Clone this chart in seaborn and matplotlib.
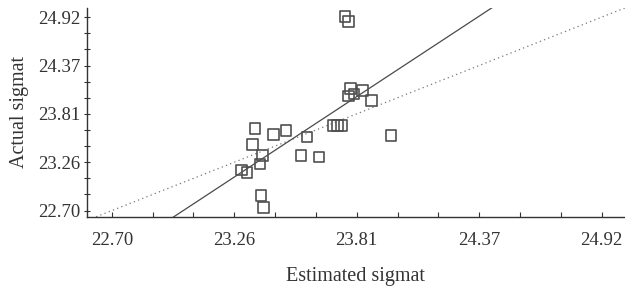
import numpy as np
import pandas as pd
import matplotlib
matplotlib.use("Agg")
import matplotlib.pyplot as plt
import seaborn as sns
from matplotlib.ticker import FixedLocator

# values
estimated = [23.757, 23.772, 23.783, 23.772, 23.798, 23.837, 23.876,
             23.349, 23.432, 23.490, 23.584, 23.704, 23.722, 23.742, 23.966,
             23.337, 23.384, 23.372, 23.558, 23.639, 23.287, 23.312, 23.376, 23.387]
actual = [24.925, 24.868, 24.103, 24.015, 24.038, 24.075, 23.961,
          23.644, 23.575, 23.616, 23.544, 23.674, 23.674, 23.678, 23.559,
          23.460, 23.334, 23.237, 23.334, 23.314, 23.165, 23.139, 22.870, 22.737]
tick_vals = [22.70, 23.255, 23.81, 24.365, 24.92]
tick_labels = ["22.70", "23.26", "23.81", "24.37", "24.92"]

df = pd.DataFrame({"Estimated sigmat": estimated, "Actual sigmat": actual})

sns.set_style("white")
plt.rcParams["font.family"] = ["Liberation Serif", "DejaVu Serif"]
ink = "#333333"

fig = plt.figure(figsize=(6.25, 2.86), dpi=100)
ax = fig.add_axes([0.139, 0.242, 0.861, 0.730])
ax.set_xlim(22.587, 25.026)
ax.set_ylim(22.629, 25.025)

# y = x reference
ax.axline((tick_vals[0], tick_vals[0]), slope=1, color="#777777",
          linewidth=0.9, dashes=(1, 2.6))

sns.regplot(data=df, x="Estimated sigmat", y="Actual sigmat", ax=ax,
            ci=None, truncate=False, marker="s",
            scatter_kws=dict(facecolor="none", edgecolor="#505050", s=58,
                             linewidths=1.2, alpha=1, zorder=3),
            line_kws=dict(color="#4a4a4a", linewidth=0.9))

ax.set_xlim(22.587, 25.026)
ax.set_ylim(22.629, 25.025)

sns.despine(ax=ax)
for s in ["left", "bottom"]:
    ax.spines[s].set_color(ink)
    ax.spines[s].set_linewidth(1.0)

ax.set_xticks(tick_vals)
ax.set_xticklabels(tick_labels)
ax.set_yticks(tick_vals)
ax.set_yticklabels(tick_labels)
minor = np.arange(22.70 - 0.185, 25.05, 0.555 / 3)
ax.xaxis.set_minor_locator(FixedLocator(minor))
ax.yaxis.set_minor_locator(FixedLocator(minor))

ax.tick_params(axis="x", which="both", direction="in", length=3.5, width=0.8,
               color=ink, labelsize=13.5, labelcolor=ink, pad=11)
ax.tick_params(axis="y", which="both", direction="inout", length=5, width=0.8,
               color=ink, labelsize=13.5, labelcolor=ink, pad=2)
ax.tick_params(which="both", bottom=True, left=True)

ax.set_xlabel("Estimated sigmat", fontsize=14.5, color=ink, labelpad=13)
ax.set_ylabel("Actual sigmat", fontsize=14.5, color=ink, labelpad=7)

fig.savefig("out.png", dpi=100)
